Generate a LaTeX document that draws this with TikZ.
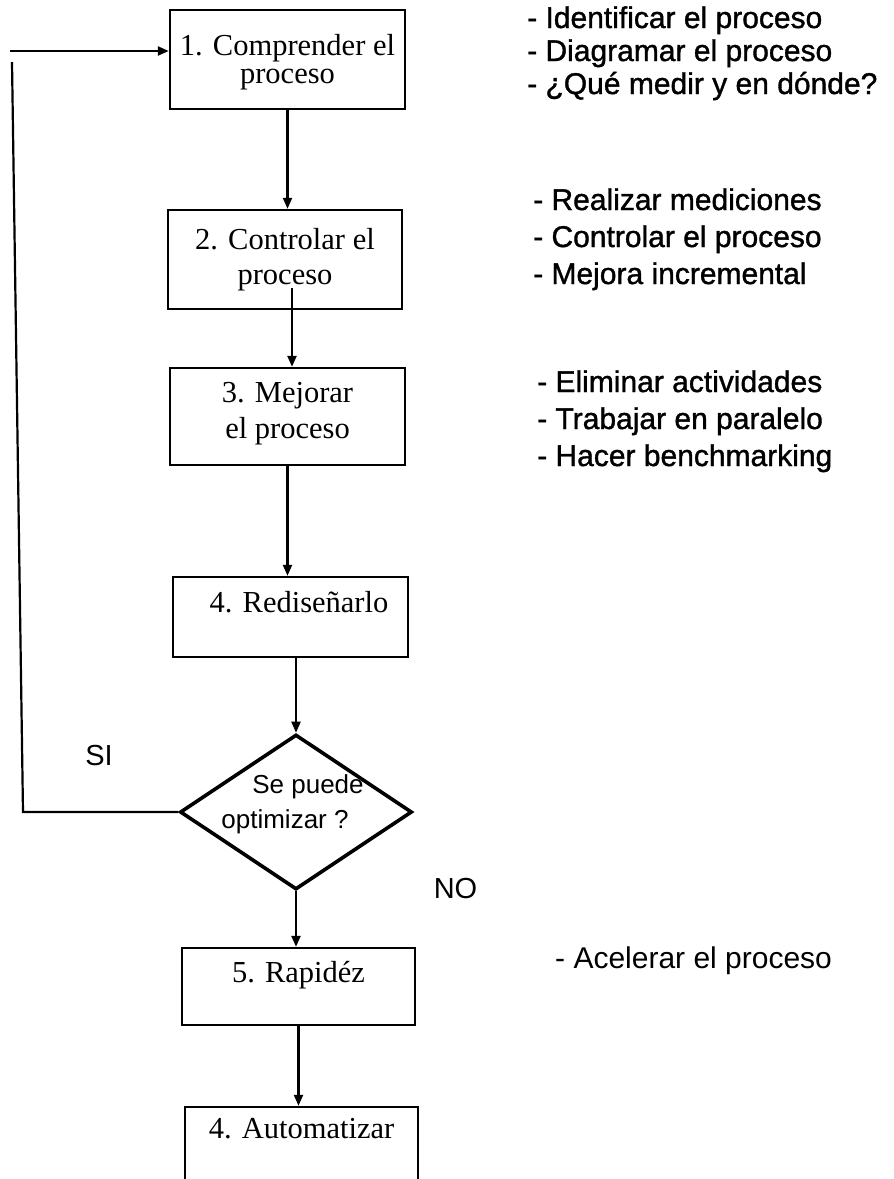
\documentclass[tikz,border=0pt]{standalone}
\usepackage{fontspec}
\setmainfont{Liberation Serif}
\newfontfamily\arialfont{Liberation Sans}
\newfontfamily\arialheavy[FakeBold=1.2]{Liberation Sans}
\usetikzlibrary{arrows.meta,shapes.geometric}

\begin{document}
\begin{tikzpicture}[x=1pt,y=-1pt,
  box/.style={draw, line width=2.4pt, inner sep=0pt},
  decision/.style={draw, diamond, line width=3.6pt, inner sep=0pt},
  arr/.style={line width=2.2pt, -{Triangle[length=11pt,width=9pt]}},
  lnk/.style={line width=2.2pt},
  lbl/.style={font=\fontsize{30.5}{34}\selectfont, inner sep=0pt, anchor=base},
  note/.style={font=\arialheavy\fontsize{30}{33}\selectfont, inner sep=0pt, anchor=base west},
  plainnote/.style={font=\arialfont\fontsize{30}{33}\selectfont, inner sep=0pt, anchor=base west},
  tag/.style={font=\arialfont\fontsize{29}{33}\selectfont, inner sep=0pt, anchor=base},
  dlbl/.style={font=\arialfont\fontsize{26}{30}\selectfont, inner sep=0pt, anchor=base},
]
\useasboundingbox (0,0) rectangle (894,1179);
\fill[white] (0,0) rectangle (894,1179);
\clip (0,0) rectangle (894,1179);

% process boxes
\node[box, minimum width=235pt, minimum height=99pt] (b1) at (287.5,59.5) {};
\node[box, minimum width=234pt, minimum height=99pt] (b2) at (285,259.5) {};
\node[box, minimum width=235pt, minimum height=97pt] (b3) at (287.5,416.5) {};
\node[box, minimum width=235pt, minimum height=80pt] (b4) at (290.5,617) {};
\node[decision, minimum width=232pt, minimum height=155pt] (dia) at (296,812) {};
\node[box, minimum width=233pt, minimum height=77pt] (b5) at (298.5,986.5) {};
\node[box, minimum width=233pt, minimum height=86pt] (b6) at (301.5,1150) {};

% box labels
\node[lbl] (t1a) at (287.5,55) {1. Comprender el};
\node[lbl] (t1b) at (287.5,83) {proceso};
\node[lbl] (t2a) at (285,249) {2. Controlar el};
\node[lbl] (t2b) at (285,284) {proceso};
\node[lbl] (t3a) at (287.5,402) {3. Mejorar};
\node[lbl] (t3b) at (287.5,438) {el proceso};
\node[lbl] (t4) at (299,612) {4. Rediseñarlo};
\node[lbl] (t5) at (298.5,982) {5. Rapidéz};
\node[lbl] (t6) at (301.5,1138) {4. Automatizar};

% decision text
\node[dlbl] (dq1) at (308,793) {Se puede};
\node[dlbl] (dq2) at (285,828) {optimizar ?};

% branch labels
\node[tag] (si) at (99,765) {SI};
\node[tag] (no) at (455.5,898) {NO};

% notes beside the steps
\node[note] (n1a) at (527,28) {- Identificar el proceso};
\node[note] (n1b) at (527,61) {- Diagramar el proceso};
\node[note] (n1c) at (527,94) {- ¿Qué medir y en dónde?};
\node[note] (n2a) at (533,210) {- Realizar mediciones};
\node[note] (n2b) at (533,247) {- Controlar el proceso};
\node[note] (n2c) at (533,284) {- Mejora incremental};
\node[note] (n3a) at (537,392) {- Eliminar actividades};
\node[note] (n3b) at (537,429) {- Trabajar en paralelo};
\node[note] (n3c) at (537,466) {- Hacer benchmarking};
\node[plainnote] (n5) at (555,968) {- Acelerar el proceso};

% main flow
\coordinate (a2) at (292,288);
\draw[arr] (b1.south) -- (b1.south |- b2.north);
\draw[arr] (a2) -- (a2 |- b3.north);
\draw[arr] (b3.south) -- (b3.south |- b4.north);
\draw[arr] (dia.north |- b4.south) -- (dia.north);
\draw[arr] (dia.south) -- (dia.south |- b5.north);
\draw[arr] (b5.south) -- (b5.south |- b6.north);

% feedback loop
\coordinate (lb) at (23,0);
\coordinate (lt) at (12,62);
\coordinate (ls) at (10,51);
\draw[lnk] (dia.west) -- (dia.west -| lb) -- (lt);
\draw[arr] (ls) -- (ls -| b1.west);
\end{tikzpicture}
\end{document}
